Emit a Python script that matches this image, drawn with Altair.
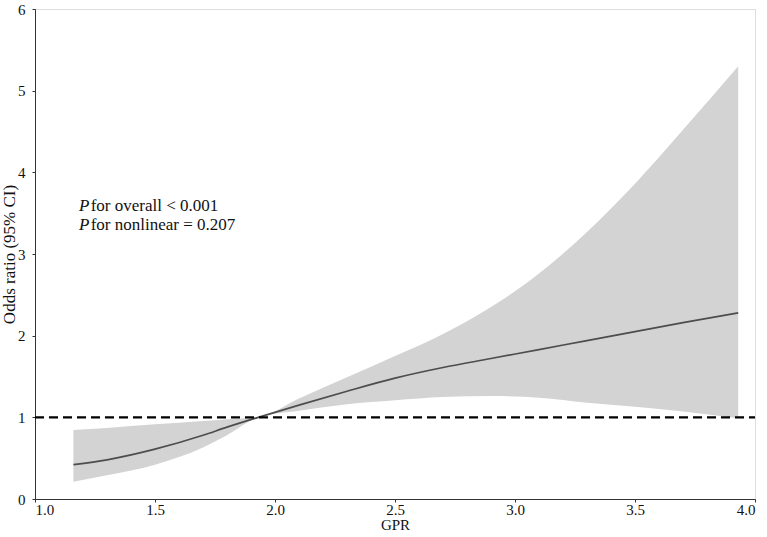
import altair as alt
import pandas as pd

# Restricted cubic spline: GPR vs odds ratio (95% CI)
gpr = [1.16, 1.3, 1.5, 1.7, 1.8, 1.93, 2.1, 2.3, 2.5, 2.7, 2.9, 3.1, 3.3, 3.5, 3.7, 3.93]
odds = [0.42, 0.48, 0.61, 0.78, 0.88, 1.00, 1.15, 1.32, 1.48, 1.61, 1.72, 1.83, 1.94, 2.05, 2.16, 2.28]
ci_upper = [0.845, 0.87, 0.915, 0.955, 0.977, 1.00, 1.23, 1.49, 1.75, 2.02, 2.35, 2.76, 3.27, 3.86, 4.52, 5.30]
ci_lower = [0.21, 0.29, 0.42, 0.63, 0.78, 1.00, 1.08, 1.16, 1.21, 1.25, 1.26, 1.24, 1.18, 1.13, 1.07, 0.99]

ref_value = [1.0]
x_domain = [1.0, 4.0]
y_domain = [0, 6]

note_p = ["P", "P"]
note_rest = ["for overall < 0.001", "for nonlinear = 0.207"]
note_x_p = [1.183, 1.183]
note_x_rest = [1.232, 1.232]
note_y = [3.585, 3.36]

FONT = "Liberation Serif"

df = pd.DataFrame({"gpr": gpr, "or": odds, "lo": ci_lower, "hi": ci_upper})
ref_df = pd.DataFrame({"y": ref_value, "x0": [x_domain[0]], "x1": [x_domain[1]]})
notes = pd.DataFrame({"p": note_p, "rest": note_rest, "xp": note_x_p,
                      "xr": note_x_rest, "y": note_y})

xscale = alt.Scale(domain=x_domain, nice=False, zero=False)
yscale = alt.Scale(domain=y_domain, nice=False)

xaxis = alt.Axis(title="GPR", values=[1.0, 1.5, 2.0, 2.5, 3.0, 3.5, 4.0], format=".1f",
                 grid=False, tickSize=3, labelPadding=0, titlePadding=0,
                 domainColor="#333", tickColor="#333", labelColor="#111", titleColor="#111",
                 labelFont=FONT, titleFont=FONT, labelFontSize=15, titleFontSize=15,
                 titleFontWeight="normal")
yaxis = alt.Axis(title="Odds ratio (95% CI)", values=[0, 1, 2, 3, 4, 5, 6], format="d",
                 grid=False, tickSize=3, labelPadding=7, titlePadding=-1,
                 domainColor="#333", tickColor="#333", labelColor="#111", titleColor="#111",
                 labelFont=FONT, titleFont=FONT, labelFontSize=15, titleFontSize=17,
                 titleFontWeight="normal")

band = alt.Chart(df).mark_area(color="#d3d3d3", opacity=1, interpolate="monotone").encode(
    x=alt.X("gpr:Q", scale=xscale, axis=xaxis),
    y=alt.Y("lo:Q", scale=yscale, axis=yaxis),
    y2="hi:Q",
)

line = alt.Chart(df).mark_line(color="#4d4d4d", strokeWidth=1.7, interpolate="monotone").encode(
    x="gpr:Q", y="or:Q"
)

ref = alt.Chart(ref_df).mark_rule(color="#000000", strokeWidth=2.2, strokeDash=[9, 5]).encode(
    x="x0:Q", x2="x1:Q", y="y:Q"
)

txt_p = alt.Chart(notes).mark_text(font=FONT, fontSize=17, fontStyle="italic", align="left",
                                   baseline="middle", color="#111").encode(
    x="xp:Q", y="y:Q", text="p:N")
txt_rest = alt.Chart(notes).mark_text(font=FONT, fontSize=17, align="left",
                                      baseline="middle", color="#111").encode(
    x="xr:Q", y="y:Q", text="rest:N")

chart = alt.layer(band, line, ref, txt_p, txt_rest).properties(
    width=720, height=490,
    autosize=alt.AutoSizeParams(type="none"),
    padding={"left": 35, "top": 9, "right": 12, "bottom": 38},
).configure_view(stroke=None).configure(background="white")

chart.save("out.html", embed_options={"renderer": "svg", "actions": False})
